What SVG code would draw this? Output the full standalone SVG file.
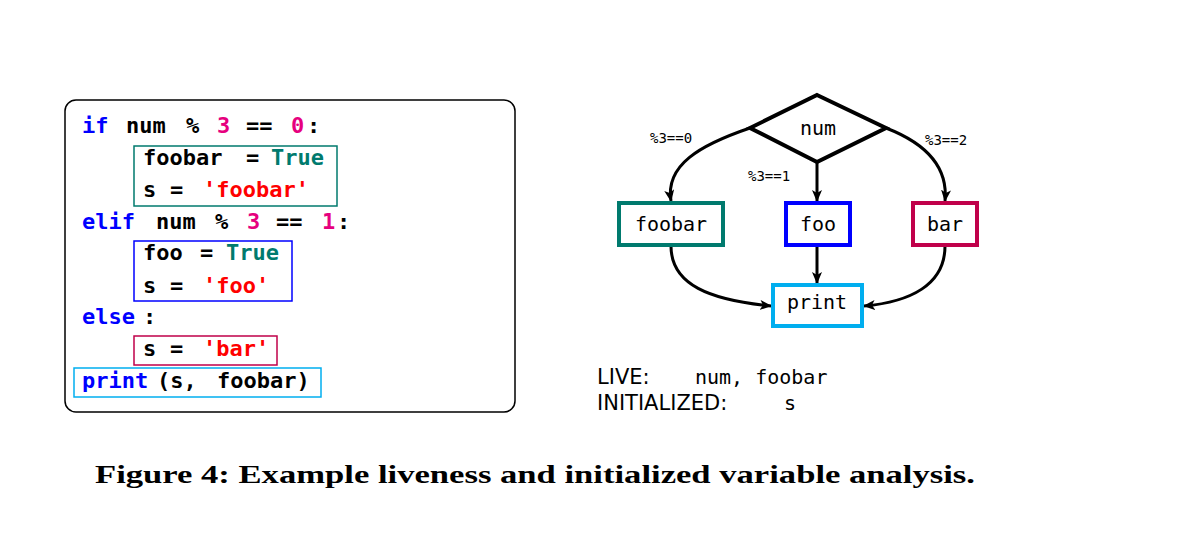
<svg xmlns="http://www.w3.org/2000/svg" width="1180" height="540" viewBox="0 0 1180 540">
<defs>
<marker id="ah" viewBox="0 0 12 10" refX="11" refY="5" markerWidth="12" markerHeight="10" markerUnits="userSpaceOnUse" orient="auto">
<path d="M0,0 L12,5 L0,10 L3,5 Z" fill="#000"/>
</marker>
</defs>
<style>
.code{font-family:"DejaVu Sans Mono",monospace;font-weight:bold;font-size:22px;fill:#000}
.kw{fill:#0000ff}.num{fill:#e6007e}.tr{fill:#007a6e}.str{fill:#ff0000}
.mono{font-family:"DejaVu Sans Mono",monospace;font-size:20px;fill:#000}
.lbl{font-family:"DejaVu Sans Mono",monospace;font-size:14px;fill:#000}
.sans{font-family:"DejaVu Sans",sans-serif;font-size:21px;fill:#000}
.node{fill:#fff;stroke-width:4}
.edge{fill:none;stroke:#000;stroke-width:3;marker-end:url(#ah)}
</style>
<rect width="1180" height="540" fill="#fff"/>
<g id="code">
<rect x="65" y="100" width="450" height="312" rx="11" fill="#fff" stroke="#000" stroke-width="1.5"/>
<rect x="134" y="146" width="203" height="60" fill="none" stroke="#007a6e" stroke-width="1.5"/>
<rect x="134" y="241" width="158" height="60" fill="none" stroke="#0000ff" stroke-width="1.5"/>
<rect x="134" y="336" width="143" height="29" fill="none" stroke="#c0004a" stroke-width="1.5"/>
<rect x="74" y="368" width="247" height="29" fill="none" stroke="#00aeef" stroke-width="1.5"/>
<text class="code" y="133"><tspan class="kw" x="82">if</tspan><tspan x="126">num</tspan><tspan x="186">%</tspan><tspan class="num" x="217">3</tspan><tspan x="246">==</tspan><tspan class="num" x="291">0</tspan><tspan x="307">:</tspan></text>
<text class="code" y="165"><tspan x="143">foobar</tspan><tspan x="246">=</tspan><tspan class="tr" x="271">True</tspan></text>
<text class="code" y="197"><tspan x="143">s</tspan><tspan x="170">=</tspan><tspan class="str" x="203">'foobar'</tspan></text>
<text class="code" y="229"><tspan class="kw" x="82">elif</tspan><tspan x="156">num</tspan><tspan x="215">%</tspan><tspan class="num" x="247">3</tspan><tspan x="276">==</tspan><tspan class="num" x="322">1</tspan><tspan x="337">:</tspan></text>
<text class="code" y="260"><tspan x="143">foo</tspan><tspan x="200">=</tspan><tspan class="tr" x="226">True</tspan></text>
<text class="code" y="293"><tspan x="143">s</tspan><tspan x="170">=</tspan><tspan class="str" x="203">'foo'</tspan></text>
<text class="code" y="324"><tspan class="kw" x="82">else</tspan><tspan x="143">:</tspan></text>
<text class="code" y="356"><tspan x="143">s</tspan><tspan x="170">=</tspan><tspan class="str" x="203">'bar'</tspan></text>
<text class="code" y="388"><tspan class="kw" x="82">print</tspan><tspan x="157">(s,</tspan><tspan x="217">foobar)</tspan></text>
</g>
<g id="connectors">
<path class="edge" d="M750,128 C700,145 665,165 671,201"/>
<path class="edge" d="M817,163 L817,201"/>
<path class="edge" d="M886,128 C930,145 948,170 945,201"/>
<path class="edge" d="M671,246 C671,285 710,300 771,306"/>
<path class="edge" d="M817,246 L817,283"/>
<path class="edge" d="M945,246 C945,285 910,302 864,306"/>
<text class="lbl" x="650" y="143">%3==0</text>
<text class="lbl" x="748" y="181">%3==1</text>
<text class="lbl" x="925" y="145">%3==2</text>
</g>
<g id="num"><polygon points="817,95 886,128 817,162 750,128" class="node" stroke="#000"/><text class="mono" x="818" y="135" text-anchor="middle">num</text></g>
<g id="foobar"><rect x="619" y="203" width="104" height="42" class="node" stroke="#007a6e"/><text class="mono" x="671" y="231" text-anchor="middle">foobar</text></g>
<g id="foo"><rect x="786" y="203" width="64" height="42" class="node" stroke="#0000ff"/><text class="mono" x="818" y="231" text-anchor="middle">foo</text></g>
<g id="bar"><rect x="913" y="203" width="64" height="42" class="node" stroke="#c0004a"/><text class="mono" x="945" y="231" text-anchor="middle">bar</text></g>
<g id="print"><rect x="773" y="285" width="89" height="41" class="node" stroke="#00aeef"/><text class="mono" x="817" y="309" text-anchor="middle">print</text></g>
<g id="legend">
<text class="sans" x="597" y="384">LIVE:</text><text class="mono" x="695" y="384">num, foobar</text>
<text class="sans" x="597" y="410">INITIALIZED:</text><text class="mono" x="784" y="410">s</text>
</g>
<text x="95" y="483" font-family="Liberation Serif,serif" font-weight="bold" font-size="25" textLength="880" lengthAdjust="spacingAndGlyphs">Figure 4: Example liveness and initialized variable analysis.</text>
</svg>
